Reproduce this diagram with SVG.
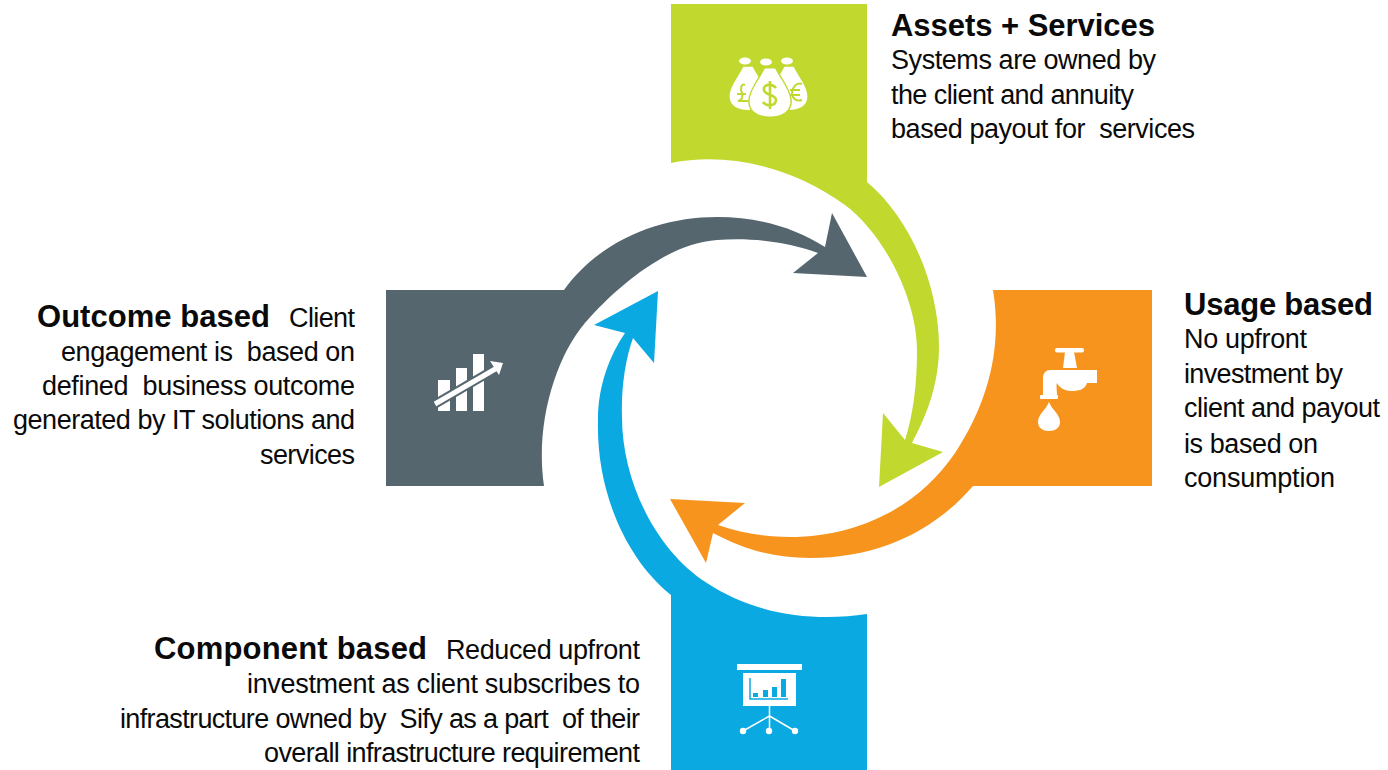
<svg xmlns="http://www.w3.org/2000/svg" width="1388" height="770" viewBox="0 0 1388 770">
<style>
text{font-family:"Liberation Sans",Arial,sans-serif;fill:#0a0a0a;white-space:pre}
.b{font-size:27px}
.t{font-size:31px;font-weight:bold}
.g{fill:#c1d82f}.o{fill:#f7941e}.c{fill:#0ba9e1}.s{fill:#55666f}
.w{fill:#fff}
</style>
<defs>
<path id="bag" d="M-5,-22H5C10,-12 20,0 20,10C20,21 10,25 0,25C-10,25 -20,21 -20,10C-20,0 -10,-12 -5,-22Z"/>
</defs>
<rect width="1388" height="770" fill="#fff"/>
<g id="connectors">
<path id="conn-green" class="g" d="M855,170L867,182C910,218 939,285 939,347C939,382 928,413 912,443L943,452L879,487L883,413L905,440C913,415 917,385 917,350C917,300 885,235 845,205Z"/>
<path id="conn-orange" class="o" d="M980,480L973,486C935,530 880,558 810,558C775,558 745,550 713,533L706,563L670,499L745,503L718,525C740,533 765,537 790,537C860,537 920,505 955,453Z"/>
<path id="conn-blue" class="c" d="M680,603L671,595C625,558 596,490 598,420C598,385 610,355 625,333L594,325L658,291L654,363L633,338C625,360 621,390 622,417C622,480 655,550 707,583Z"/>
<path id="conn-slate" class="s" d="M560,296L564,290C600,240 660,217 717,217C760,217 795,228 825,247L832,213L867,277L793,273L818,253C790,243 755,237 717,240C670,243 620,283 585,323Z"/>
</g>
<g id="node-assets">
<path class="g" d="M671,4H867V182L845,205C790,165 725,152 671,163Z"/>
<g class="w">
<ellipse cx="745" cy="61" rx="6" ry="3.5"/><ellipse cx="787" cy="61" rx="6" ry="3.5"/><ellipse cx="766" cy="62" rx="6" ry="3.5"/>
<use href="#bag" transform="translate(748,87) scale(.92)"/>
<use href="#bag" transform="translate(789,87) scale(.92)"/>
<use href="#bag" transform="translate(770,91) scale(1.02)" stroke="#c1d82f" stroke-width="3" paint-order="stroke"/>
</g>
<g fill="none" stroke="#c1d82f" stroke-width="2">
<path d="M776,88C772,83 763,84 764,90C765,96 776,94 776,100C776,106 766,107 763,102M770,81V109" stroke-width="2.6"/>
<path d="M745,85C741,83 740,89 742,93C743,97 742,100 738,101H748M737,94H746"/>
<path d="M802,84C796,82 792,88 792,93C792,98 796,102 802,100M790,90H800M790,95H800"/>
</g>
<text class="t" x="891" y="36" textLength="264">Assets + Services</text>
<text class="b" x="891" y="69" textLength="265">Systems are owned by</text>
<text class="b" x="891" y="104" textLength="243">the client and annuity</text>
<text class="b" x="891" y="138" textLength="304">based payout for  services</text>
</g>
<g id="node-usage">
<path class="o" d="M993,290H1152V486H973L955,453C990,400 1002,345 993,290Z"/>
<g class="w">
<rect x="1055" y="348" width="29" height="4.5" rx="2"/>
<path d="M1065,352H1074L1077,368H1063Z"/>
<path d="M1050,370H1097V383H1087C1085,390 1078,391 1071,391C1064,391 1059,387 1057,383C1056,385 1057,390 1057,396H1043V378C1043,373 1046,370 1050,370Z"/>
<rect x="1040" y="395" width="18" height="4" rx="1"/>
<path d="M1049,402C1052,410 1060,414 1060,422C1060,428 1055,431 1049,431C1043,431 1038,428 1038,422C1038,414 1046,410 1049,402Z"/>
</g>
<text class="t" x="1184" y="315" textLength="189">Usage based</text>
<text class="b" x="1184" y="348" textLength="123">No upfront</text>
<text class="b" x="1184" y="383" textLength="159">investment by</text>
<text class="b" x="1184" y="417" textLength="196">client and payout</text>
<text class="b" x="1184" y="453" textLength="134">is based on</text>
<text class="b" x="1184" y="487" textLength="151">consumption</text>
</g>
<g id="node-component">
<path class="c" d="M671,770V595L707,583C755,615 815,622 867,614V770Z"/>
<g class="w">
<rect x="737" y="664" width="65" height="6"/>
<rect x="743" y="673" width="53" height="33"/>
</g>
<g class="c">
<rect x="753" y="693" width="5" height="4"/><rect x="763" y="690" width="5" height="7"/><rect x="772" y="687" width="5" height="10"/><rect x="781" y="679" width="5" height="18"/>
</g>
<path d="M750,678V699H788" fill="none" stroke="#0ba9e1" stroke-width="1.5"/>
<path d="M769.5,706V731M769.5,716L743,731M769.5,716L795,731" fill="none" stroke="#fff" stroke-width="1.5"/>
<g class="w"><circle cx="743" cy="731" r="3.2"/><circle cx="769" cy="731" r="3.2"/><circle cx="795" cy="731" r="3.2"/></g>
<text class="t" x="154" y="659" textLength="273">Component based</text>
<text class="b" x="446" y="659" textLength="194">Reduced upfront</text>
<text class="b" x="247" y="693" textLength="393">investment as client subscribes to</text>
<text class="b" x="120" y="728" textLength="520">infrastructure owned by  Sify as a part  of their</text>
<text class="b" x="264" y="762" textLength="376">overall infrastructure requirement</text>
</g>
<g id="node-outcome">
<path class="s" d="M386,290H564L585,323C555,358 535,425 544,486H386Z"/>
<g class="w">
<rect x="438" y="380" width="12" height="31"/><rect x="456" y="368" width="11" height="43"/><rect x="473" y="354" width="11" height="57"/>
</g>
<path d="M435,404L495,369" stroke="#55666f" stroke-width="9" fill="none"/>
<path d="M435,404L497,368" stroke="#fff" stroke-width="5" fill="none"/>
<path class="w" d="M503,363L490,361L499,375Z"/>
<text class="t" x="37" y="327" textLength="233">Outcome based</text>
<text class="b" x="289" y="327" textLength="66">Client</text>
<text class="b" x="61" y="361" textLength="294">engagement is  based on</text>
<text class="b" x="42" y="395" textLength="313">defined  business outcome</text>
<text class="b" x="13" y="429" textLength="342">generated by IT solutions and</text>
<text class="b" x="260" y="464" textLength="95">services</text>
</g>
</svg>
